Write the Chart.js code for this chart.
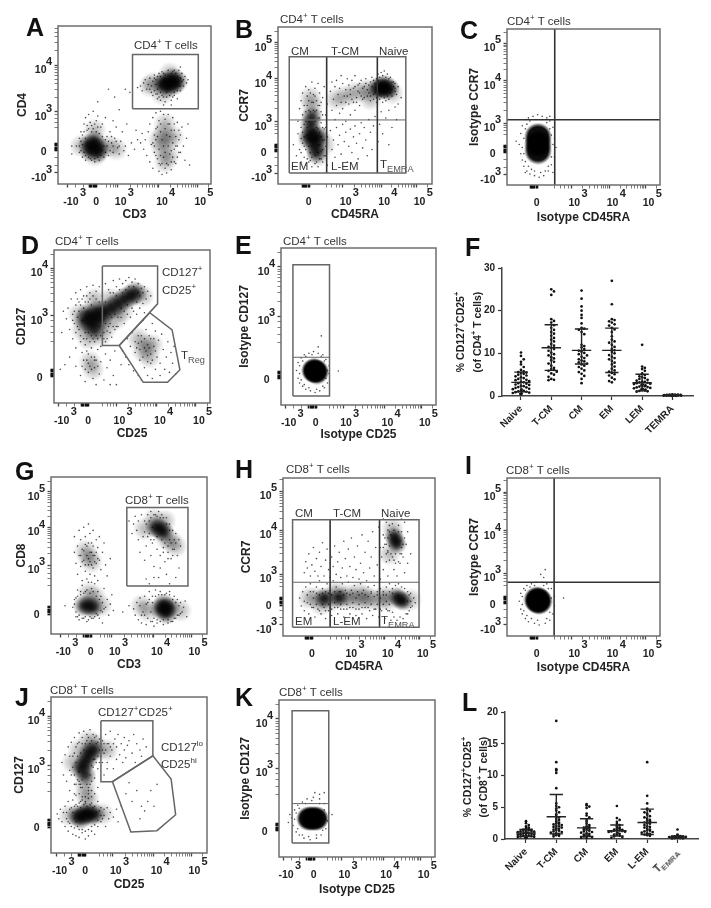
<!DOCTYPE html>
<html>
<head>
<meta charset="utf-8">
<script src="https://cdn.jsdelivr.net/npm/chart.js@4"></script>
<style>
  body { margin: 0; background: #fff; width: 711px; height: 908px; overflow: hidden; position: relative; font-family: "Liberation Sans", Arial, sans-serif; }
  canvas { position: absolute; }
  .txt { position: absolute; white-space: nowrap; color: #333; font-size: 11.5px; transform: translateY(-50%); line-height: 1; }
  .letter { font-size: 25px; font-weight: bold; color: #111; }
  .rot { font-size: 10.5px; font-weight: bold; color: #222; transform: translate(-50%, -50%) rotate(-90deg); }
  .tick45 { font-size: 10px; font-weight: bold; color: #222; transform: rotate(-45deg); transform-origin: right center; }
  sup { font-size: 70%; line-height: 0; }
  sub { font-size: 80%; line-height: 0; color: #555; }
</style>
</head>
<body>
<script>
// axis positions are flow cytometer display channels, 0-100 along each frame
const labelsX5 = ['-10', '0', '10', '10', '10'];
const expX5 = [3, '', 3, 4, 5];
const labelsX4 = ['0', '10', '10', '10'];
const expX4 = ['', 3, 4, 5];
const labelsY3 = ['0', '10', '10'];
const expY3 = ['', 3, 4];
const labelsY4 = ['-10', '0', '10', '10'];
const expY4 = [3, '', 3, 4];
const labelsY4b = ['0', '10', '10', '10'];
const expY4b = ['', 3, 4, 5];

// ---- A
const aTicksX = [6.5, 23, 39, 66, 91];
const aTicksY = [7, 23.4, 45.6, 75.3];
const aDense = [[73,64],[70,65],[76,63],[72,61],[75,67],[68,63],[78,65],[23,24],[27,23],[20,25],[24,27],[26,20],[21,21]];
const aHaze = [[62,64],[60,62],[68,57],[73,70],[15,24],[33,24],[24,34],[38,22],[24,18],[70,38],[69,32],[71,27],[68,22],[72,18],[66,28],[75,30],[70,14]];
const aDots = [[54,62],[56,64],[58,60],[57,66],[60,67],[61,58],[63,69],[62,56],[64,63],[65,54],[66,70],[67,53],[68,71],[70,52],[72,72],[71,55],[74,53],[76,56],[78,54],[80,59],[82,62],[84,64],[83,68],[81,70],[79,72],[76,72],[59,63],[52,61],[55,59],[65,60],[85,66],[74,50],[69,50],[80,74],
  [12,24],[14,20],[14,29],[15,33],[16,17],[17,38],[18,15],[18,42],[19,34],[20,44],[21,16],[22,37],[23,46],[24,14],[25,40],[26,43],[27,15],[28,36],[29,38],[30,17],[31,42],[32,30],[33,18],[34,33],[35,26],[36,20],[37,29],[38,36],[39,23],[40,19],[41,27],[42,33],[43,21],[44,24],[46,18],[48,26],[50,22],[36,40],[45,38],[52,28],[55,32],[9,24],[9,19],[40,47],[47,58],[26,52],[33,60],[44,60],[37,55],
  [56,22],[57,28],[58,18],[59,33],[60,14],[60,38],[61,25],[62,42],[62,10],[63,20],[64,35],[64,45],[65,16],[66,8],[66,40],[67,12],[67,46],[68,6],[69,44],[70,10],[70,41],[71,7],[72,44],[72,12],[73,38],[74,9],[74,21],[75,42],[76,14],[76,34],[77,24],[78,17],[78,39],[79,28],[80,31],[80,20],[81,36],[82,24],[83,15],[84,29],[86,12],[85,38],[54,26],[51,34]];
const aFringe = [[60,60],[62,65],[61,62],[63,59],[63,67],[64,57],[64,66],[65,68],[65,57],[66,55],[67,58],[67,68],[68,56],[69,70],[69,55],[70,69],[71,58],[72,69],[73,56],[74,70],[75,55],[75,71],[76,58],[77,70],[78,59],[78,68],[79,62],[80,67],[80,62],[81,65],[82,66],
  [14,24],[15,27],[15,21],[16,31],[16,25],[17,20],[17,33],[18,18],[18,29],[19,37],[20,17],[20,35],[21,39],[22,15],[22,33],[23,35],[24,16],[24,38],[25,33],[26,17],[26,36],[27,32],[28,18],[29,30],[29,21],[30,24],[31,28],[31,20],[32,24],[33,27],[34,21],[35,30],[36,24],[38,27],[40,24],
  [62,26],[63,31],[63,24],[64,18],[64,28],[65,36],[65,30],[66,22],[66,13],[67,33],[67,18],[67,38],[68,28],[68,13],[69,24],[69,17],[70,35],[70,20],[71,31],[71,13],[72,24],[72,38],[73,19],[73,30],[74,14],[74,34],[75,26],[75,17],[76,22],[76,38],[77,30],[77,13],[78,24],[79,34],[79,20]];
const aGate = [[48.7,47.7],[91.7,47.7],[91.7,82],[48.7,82],[48.7,47.7]];

// ---- B
const bTicksX = [18, 42, 67, 90];
const bTicksY = [7, 23, 39.5, 67, 90];
const bDense = [[68,61],[66,62],[70,60],[69,63],[65,60],[72,61],[23,28],[22,33],[24,24],[21,38],[25,20],[22,43],[20,30],[26,30]];
const bHaze = [[60,60],[56,59],[50,58],[44,56],[38,54],[22,50],[21,55],[20,28],[27,30],[26,18],[30,25],[74,58],[60,54]];
const bDots = [[10,25],[12,18],[13,32],[13,40],[14,22],[14,48],[15,14],[15,29],[15,36],[15,53],[16,44],[16,58],[17,17],[17,24],[17,50],[18,12],[18,40],[18,62],[19,31],[19,56],[20,14],[20,47],[20,60],[21,20],[22,11],[22,52],[22,65],[23,57],[24,13],[24,46],[24,61],[25,36],[25,53],[26,11],[26,25],[26,42],[26,64],[27,16],[27,33],[27,50],[27,58],[28,21],[28,39],[28,46],[29,14],[29,28],[29,55],[30,18],[30,35],[30,62],[31,24],[31,44],[32,12],[32,30],[32,51],
  [34,59],[35,47],[35,65],[36,54],[37,41],[37,62],[38,50],[38,66],[39,57],[40,45],[40,61],[41,52],[41,69],[42,48],[42,64],[43,56],[44,40],[44,60],[45,67],[46,51],[46,63],[47,44],[47,57],[48,66],[49,52],[49,61],[50,47],[50,69],[51,55],[52,63],[53,58],[53,50],[54,66],[55,54],[56,62],[57,67],[58,56],[59,63],[60,53],[61,68],[62,57],[63,64],[64,52],
  [65,70],[66,54],[67,71],[68,52],[69,72],[70,53],[71,70],[72,54],[73,68],[74,56],[75,65],[76,61],[77,57],[78,62],[78,51],[80,55],[76,49],[72,47],[67,46],
  [34,34],[35,22],[36,28],[37,17],[38,36],[39,25],[40,31],[41,19],[42,38],[43,27],[44,33],[45,14],[46,24],[47,35],[48,20],[49,30],[50,37],[51,26],[52,16],[53,32],[54,39],[55,23],[56,36],[57,28],[58,18],[59,41],[60,33],[61,22],[62,37],[63,43],[65,27],[66,38],[68,32],[70,42],[72,25],[74,36],[77,41]];
const bFringe = [[15,20],[16,26],[16,33],[17,38],[17,30],[18,22],[18,46],[19,16],[19,36],[19,50],[20,24],[20,40],[20,53],[21,15],[21,46],[21,58],[22,17],[22,24],[23,47],[23,52],[24,18],[24,40],[24,56],[25,14],[25,30],[25,47],[26,20],[26,35],[26,50],[27,25],[27,42],[28,16],[28,30],[28,52],[29,22],[29,36],[29,44],[30,28],[31,36],[31,18],
  [44,52],[45,56],[47,60],[48,54],[50,62],[51,52],[52,59],[53,64],[54,56],[55,61],[56,55],[57,64],[58,60],[59,58],[60,65],[60,56],[61,62],[62,66],[62,54],[63,58],[64,67],[64,55],[65,66],[66,68],[66,57],[67,56],[68,69],[69,55],[70,68],[71,56],[72,67],[73,58],[74,65],[74,60],[75,62],[76,59],[76,64]];
const bGateBox = [[7.3,7],[83,7],[83,81],[7.3,81],[7.3,7]];
const bGateH = [[7.3,40.8],[83,40.8]];
const bGateV = [[[31.6,7],[31.6,81]], [[64.5,7],[64.5,81]]];

// ---- C
const cTicksX = [17.5, 42, 67, 90.6];
const cTicksY = [6.6, 23, 39.7, 66.7, 90.8];
const cDense = [[20.3,22],[20.3,26.4],[20.3,31]];
const cDots = [[8,26],[9,20],[9,33],[10,16],[10,38],[11,12],[12,42],[13,9],[14,43],[15,7],[17,44],[18,6],[20,45],[21,5],[23,44],[24,6],[26,43],[27,9],[28,41],[29,13],[30,37],[31,18],[31,30],[32,24],[6,28],[30,8],[12,8],[28,44],
  [10,24],[11,30],[11,20],[12,36],[12,15],[13,39],[14,12],[15,41],[16,10],[18,9],[19,42],[22,8],[23,42],[25,9],[26,40],[27,12],[28,36],[29,18],[29,32],[30,26]];
const cGateH = [[0,41.8],[100,41.8]];
const cGateV = [[31.2,0],[31.2,100]];

// ---- D
const dTicksX = [3, 20, 40, 66, 91];
const dTicksY = [19.6, 57, 88];
const dDense = [[26,56],[22,58],[30,55],[24,52],[28,60],[20,54],[33,60],[26,48],[49,70],[45,68],[52,72],[41,65],[37,62]];
const dHaze = [[16,58],[18,48],[34,50],[30,44],[22,42],[36,68],[44,60],[40,55],[57,70],[26,68],[59,38],[57,34],[61,30],[23,27],[25,22],[54,42],[63,38]];
const dDots = [[8,55],[9,62],[10,48],[11,68],[12,54],[12,42],[13,60],[14,72],[14,36],[15,50],[16,66],[17,40],[17,74],[18,33],[19,70],[20,38],[21,76],[22,32],[23,72],[24,36],[25,77],[26,30],[27,73],[28,35],[29,76],[30,37],[31,70],[32,42],[33,78],[34,47],[35,74],[36,52],[37,43],[38,80],[39,48],[40,76],[41,50],[42,81],[43,56],[44,78],[45,52],[46,80],[47,58],[48,82],[49,56],[50,79],[51,60],[52,81],[53,58],[54,78],[55,62],[56,75],[57,65],[58,76],[59,68],[60,73],[58,59],[62,70],[36,58],[33,40],[6,60],[5,46],
  [10,30],[14,24],[17,18],[19,28],[20,14],[21,34],[22,20],[23,24],[24,30],[25,16],[26,23],[27,12],[27,28],[29,19],[30,27],[32,15],[33,32],[34,23],[36,28],[38,18],[39,34],[40,12],[36,12],[7,25],[4,22],[43,25],
  [44,34],[46,30],[47,42],[48,25],[49,37],[50,46],[51,21],[52,33],[53,50],[54,18],[54,39],[55,28],[56,44],[56,15],[57,54],[58,23],[58,36],[59,48],[60,18],[60,31],[61,44],[62,26],[63,52],[63,16],[64,37],[65,22],[65,47],[66,30],[67,41],[68,18],[68,26],[69,45],[70,35],[71,22],[72,30],[73,40],[74,20],[75,33],[76,26],[77,37],[78,19]];
const dFringe = [[12,58],[13,52],[14,64],[14,46],[15,56],[15,68],[16,48],[16,60],[17,44],[17,64],[18,54],[18,68],[19,42],[19,62],[20,46],[20,66],[21,42],[21,70],[22,46],[22,66],[23,40],[23,68],[24,44],[24,64],[25,42],[25,70],[26,40],[27,44],[27,68],[28,42],[29,50],[29,66],[30,44],[30,62],[31,50],[32,46],[33,52],[33,66],[34,42],[35,50],[36,46],[36,72],[37,56],[38,50],[38,72],[39,58],[40,50],[40,70],[41,56],[42,74],[43,62],[44,72],[45,60],[46,74],[47,64],[48,76],[50,62],[51,76],[53,66],[54,72],[55,70],[57,72],
  [52,40],[53,36],[54,44],[55,35],[56,40],[57,30],[58,42],[59,34],[60,38],[60,27],[61,36],[62,42],[62,32],[63,28],[64,42],[65,34],[18,24],[20,22],[21,28],[22,26],[24,22],[26,28],[28,24]];
const dGatePlus = [[31,89.6],[66.4,89.6],[66.4,64.8],[41.8,37.6],[31,37.6],[31,89.6]];
const dGateTreg = [[41.8,37.6],[61.4,59],[75.7,47.8],[80.7,21.7],[72.8,13.5],[57.2,13.5],[41.8,37.6]];

// ---- E
const eTicksX = [3, 20.4, 40, 66.7, 90.8];
const eTicksY = [19, 56.4, 87.9];
const eDense = [[22,21.7],[21,22],[23,21]];
const eDots = [[10,22],[11,17],[11,27],[12,14],[13,30],[14,12],[15,32],[16,10],[18,33],[19,9],[21,34],[22,8],[24,33],[25,9],[27,32],[28,11],[29,29],[30,14],[31,20],[31,25],[24,37],[26,44],[37,21.7],
  [12,20],[12,25],[13,16],[14,28],[15,13],[16,31],[18,11],[20,32],[23,10],[26,31],[27,12],[28,28],[29,17],[30,22]];
const eGateBox = [[7.7,5.7],[31.3,5.7],[31.3,89.4],[7.7,89.4],[7.7,5.7]];
const eGateH = [[7.7,30.4],[31.3,30.4]];

// ---- F
const fCategories = ['Naive', 'T-CM', 'CM', 'EM', 'LEM', 'TEMRA'];
const fTicksY = [0, 10, 20, 30];
const fNaive = [10.2,9.4,8.6,8,7.4,6.8,6.1,5.8,5.6,5.5,5.4,5.2,5,4.8,4.6,4.4,4.2,4,3.8,3.7,3.5,3.3,3.2,3,2.9,2.7,2.6,2.4,2.3,2.1,2,1.9,1.7,1.6,1.5,1.3,1.2,1.1,1,0.9,0.8,0.7,0.6,0.5,0.4];
const fTCM = [25,24.5,23.7,18,17.6,17.2,16.6,16,15.5,15,14.6,14.1,13.6,13.2,12.8,12.2,11.8,11.5,11.3,11,10.6,10.2,9.8,9.5,9.1,8.8,8.4,8,7.6,7.1,6.6,6.3,6.1,5.9,5.7,5.3,5,4.5,4,3.8,3.7];
const fCM = [24.7,22.8,21,20,19,18.3,17,16,15.8,15.5,15,14.5,12,11.7,11.4,11,10.6,10.4,10.1,9.8,9.5,9.2,8.9,8.6,8.3,8.1,7.9,7.6,7.4,7.1,6.8,6.4,6,5.6,5.2,4.7,4,3];
const fEM = [27,21.5,18,17.8,17.5,17.2,16.8,16.5,16,15.6,15,14,13.2,12.8,12.5,12,11.5,11,10.7,10.3,10,9.6,9.2,8.9,8.6,8.2,7.8,7.4,6.9,6.4,6,5.7,5.4,5.1,4.8,4.3,3.9,3.5,3.2];
const fLEM = [12,6.9,6.6,6.3,5.9,5.3,4.9,4.6,4.4,4.2,4,3.8,3.6,3.4,3.3,3.2,3.1,3,2.9,2.8,2.7,2.6,2.5,2.4,2.3,2.2,2.1,2,1.9,1.8,1.7,1.6,1.5,1.4,1.3,1.2,1.1,1];
const fTEMRA = [0.4,0.35,0.3,0.3,0.25,0.25,0.2,0.2,0.2,0.15,0.15,0.15,0.1,0.1,0.1,0.1,0.05,0.05];
const fMeans = [3.2, 11.3, 10.7, 10.7, 3.1, 0.15];
const fLow = [1, 6, 7.5, 5.5, 1.2, 0.05];
const fHigh = [5.6, 16.7, 15.7, 15.9, 5.1, 0.3];

// ---- G
const gTicksX = [6, 23.5, 39, 66, 90];
const gTicksY = [15, 43.9, 67.8, 90.5];
const gDense = [[73,16],[70,16],[76,17],[72,19],[74,13],[24,18],[21,18],[27,17],[70,67],[67,68],[72,65]];
const gHaze = [[62,15],[83,15],[58,18],[24,26],[32,18],[28,24],[77,59],[74,61],[66,73],[24,49],[26,46],[22,53],[73,72],[80,56],[60,67]];
const gDots = [[53,16],[54,12],[55,20],[56,9],[57,23],[58,7],[59,14],[60,24],[61,6],[62,20],[63,27],[64,8],[65,24],[66,5],[67,28],[68,7],[70,27],[72,6],[73,25],[75,7],[76,27],[78,8],[79,24],[80,10],[81,22],[82,12],[83,20],[84,14],[85,17],[86,21],[87,11],[50,18],[46,14],
  [15,19],[16,14],[16,23],[17,11],[17,28],[18,9],[19,25],[20,31],[21,10],[22,27],[23,8],[24,33],[25,11],[26,29],[27,10],[28,32],[29,13],[30,27],[31,10],[32,24],[33,14],[34,29],[35,17],[36,22],[37,12],[38,19],[39,25],[40,15],[9,18],[33,7],
  [15,62],[16,45],[17,56],[17,38],[18,50],[18,66],[19,43],[19,60],[20,34],[20,54],[21,68],[21,47],[22,40],[22,62],[23,35],[23,56],[24,70],[24,44],[25,52],[25,38],[25,64],[26,58],[26,33],[27,42],[27,66],[28,50],[28,37],[29,60],[29,45],[30,55],[30,34],[31,62],[31,47],[32,41],[33,52],[34,58],[35,44],[36,37],[38,48],[15,52],
  [50,72],[52,64],[53,70],[54,75],[55,66],[56,60],[56,72],[57,52],[58,76],[59,62],[60,72],[60,47],[61,56],[62,76],[63,64],[64,50],[64,78],[65,58],[66,43],[67,76],[68,54],[69,78],[70,50],[70,42],[71,76],[72,55],[73,46],[74,74],[75,52],[76,70],[77,48],[78,66],[79,54],[80,64],[81,50],[82,60],[83,56],[69,36],[74,38],[66,36],[61,35],[80,36],[63,32],[76,32],[82,42]];
const gFringe = [[60,12],[61,19],[62,10],[63,22],[64,14],[65,8],[65,20],[66,10],[67,24],[68,9],[69,25],[70,8],[71,25],[72,9],[74,26],[75,9],[76,25],[77,8],[78,22],[79,10],[80,20],[81,12],[82,18],[83,13],[58,12],[57,18],
  [14,17],[15,22],[16,11],[17,24],[18,12],[19,27],[20,10],[21,26],[22,11],[23,28],[24,9],[25,26],[26,10],[27,27],[28,11],[29,24],[30,12],[31,22],[32,15],[33,20],[34,16],
  [19,50],[20,46],[21,53],[22,44],[22,57],[23,50],[24,58],[24,48],[25,46],[26,52],[26,44],[27,50],[27,56],[28,46],[29,52],[30,48],
  [60,65],[61,70],[62,62],[63,72],[64,60],[64,74],[65,68],[66,60],[66,76],[68,62],[68,75],[70,74],[71,60],[72,74],[73,58],[74,70],[75,56],[76,60],[76,66],[77,58],[78,54],[79,60],[80,58],[72,52],[75,48],[78,50]];
const gGate = [[48.6,30.5],[87.8,30.5],[87.8,80.5],[48.6,80.5],[48.6,30.5]];

// ---- H
const hTicksX = [17, 43, 67, 90];
const hTicksY = [7, 22, 39, 67, 91.5];
const hDense = [[74,60.5],[73,63],[75,58],[77,23],[75,25],[79,22],[27,24],[37,24]];
const hHaze = [[17,24],[22,24],[28,24],[34,25],[40,24],[46,23],[52,23],[58,23],[64,23],[70,23],[25,20],[35,28],[50,27],[72,68],[70,52],[84,23],[31,22],[43,26],[55,25],[67,25]];
const hDots = [[11,24],[12,19],[13,28],[14,16],[15,31],[16,21],[17,14],[18,33],[19,18],[20,28],[21,12],[22,31],[23,17],[24,35],[25,14],[26,30],[27,18],[28,11],[29,33],[30,16],[31,29],[32,13],[33,35],[34,18],[35,31],[36,14],[37,28],[38,17],[39,33],[40,12],[41,29],[42,17],[43,34],[44,14],[45,29],[46,18],[47,32],[48,13],[49,28],[50,17],[51,33],[52,14],[53,29],[54,18],[55,11],[56,31],[57,16],[58,28],[59,13],[60,32],[61,17],[62,28],[63,12],[64,30],[65,16],[66,28],[67,11],[68,31],[69,16],[70,33],[71,10],[72,30],[73,12],[74,32],[75,10],[76,33],[77,12],[78,31],[79,11],[80,30],[81,14],[82,28],[83,16],[84,27],[85,19],[86,24],[87,21],
  [14,40],[15,47],[16,43],[17,52],[18,38],[19,45],[20,56],[21,41],[22,49],[23,38],[24,53],[25,44],[26,59],[27,38],[28,48],[29,55],[30,42],[31,37],[32,50],[33,44],[34,57],[35,39],[36,47],[37,53],[38,37],[39,43],[40,60],[41,49],[42,38],[43,55],[44,44],[45,62],[46,37],[47,50],[48,42],[49,57],[50,36],[51,46],[52,64],[53,40],[54,53],[55,35],[56,60],[57,43],[58,50],[59,66],[60,38],[61,56],[62,45],[63,69],[64,36],[65,50],[66,42],[67,58],[68,47],[69,38],[70,70],[66,64],[68,72],[64,56],[82,66],[81,58],[80,72],[79,50],[78,74],[82,46],[66,74],[69,53],[80,40],[73,42],[76,47],[84,52],[75,38],
  [66,56],[67,62],[68,52],[69,67],[70,48],[72,71],[73,48],[76,70],[78,66],[79,58],[80,62],[78,52],[74,46],[77,46]];
const hFringe = [[14,22],[16,26],[18,20],[18,28],[20,18],[20,24],[22,20],[22,27],[24,16],[24,26],[26,20],[26,27],[28,16],[28,28],[30,20],[30,27],[32,17],[32,26],[34,21],[34,28],[36,18],[36,25],[38,20],[38,28],[40,17],[40,26],[42,20],[42,27],[44,18],[44,26],[46,21],[46,27],[48,17],[48,24],[50,20],[50,26],[52,18],[52,27],[54,21],[54,26],[56,18],[56,25],[58,20],[58,27],[60,17],[60,25],[62,20],[62,26],[64,17],[64,24],[66,20],[66,26],[68,17],[68,26],[70,16],[70,28],[72,15],[72,27],[84,22],[83,26],[84,18],[82,14],[82,22],[70,20],[68,22],
  [68,58],[69,62],[69,54],[70,66],[70,57],[71,64],[71,52],[72,50],[73,67],[74,52],[76,66],[77,60],[78,56],[77,52]];
const hGateBox = [[6.3,5.5],[89.5,5.5],[89.5,73.6],[6.3,73.6],[6.3,5.5]];
const hGateH = [[6.3,34],[89.5,34]];
const hGateV = [[[31,5.5],[31,73.6]], [[63.5,5.5],[63.5,73.6]]];

// ---- I
const iTicksX = [17.5, 42, 67, 90.6];
const iTicksY = [7, 22.8, 39.7, 66.6, 91];
const iDense = [[20.3,22.4],[19.5,23],[21,22]];
const iDots = [[8,22],[9,17],[9,27],[10,14],[11,30],[12,11],[13,32],[14,9],[16,33],[18,8],[19,34],[21,7],[23,34],[25,8],[26,33],[28,10],[29,30],[30,14],[31,19],[31,25],[22,39],[25,42],[37,24],[24,37],
  [10,20],[10,25],[11,16],[12,29],[13,13],[15,31],[16,11],[18,32],[20,10],[24,32],[26,11],[27,30],[28,15],[29,24]];
const iGateH = [[0,34],[100,34]];
const iGateV = [[30.8,0],[30.8,100]];

// ---- J
const jTicksX = [3.6, 20, 39.6, 65.7, 90];
const jTicksY = [19, 56.4, 87.7];
const jDense = [[21,57],[19,54],[23,60],[24,64],[22,50],[27,66],[21,24.5],[17,24],[25,24],[19,22],[23,26],[28,25]];
const jHaze = [[14,58],[28,70],[30,66],[22,44],[22,38],[24,34],[12,24],[33,25],[18,66],[24,72],[36,66]];
const jDots = [[7,58],[8,50],[9,63],[10,46],[11,68],[12,53],[12,40],[13,71],[14,62],[15,44],[15,74],[16,37],[17,70],[18,77],[18,46],[19,33],[20,74],[21,78],[22,36],[23,76],[24,42],[25,79],[26,36],[27,76],[28,48],[29,75],[30,54],[31,73],[28,38],[26,46],[30,42],
  [33,72],[34,64],[35,76],[36,58],[37,70],[38,78],[38,62],[39,66],[40,54],[41,73],[42,60],[42,68],[43,76],[44,63],[45,70],[46,58],[47,66],[47,74],[48,61],[49,69],[50,72],[52,64],[53,76],[54,58],[55,70],[57,66],[58,62],[59,73],[34,50],[36,54],[61,68],[33,58],
  [4,25],[5,22],[6,28],[7,20],[8,26],[9,17],[9,30],[10,22],[11,33],[11,14],[12,19],[13,29],[14,12],[14,34],[15,22],[16,31],[16,11],[17,17],[18,32],[18,10],[20,34],[20,13],[22,9],[22,33],[24,11],[24,35],[26,14],[26,32],[28,12],[28,30],[30,17],[30,33],[32,20],[32,29],[34,24],[35,17],[36,29],[37,22],[38,26],[40,23],[42,28],[43,20],
  [15,38],[16,44],[18,38],[19,42],[20,36],[24,38],[26,40],[25,44],[48,38],[52,33],[55,40],[58,30],[60,27],[62,33],[64,40],[66,30],[50,45],[68,44],[45,30],[57,22]];
const jFringe = [[12,62],[13,50],[14,55],[15,64],[15,50],[16,58],[16,68],[17,47],[17,62],[18,52],[18,71],[19,44],[19,64],[20,70],[20,47],[21,66],[22,70],[23,72],[23,44],[24,74],[25,70],[25,50],[26,72],[26,56],[27,55],[27,60],[28,74],[28,60],[29,70],[29,58],[30,71],[30,62],[31,66],[31,58],[32,70],[32,62],[33,66],[34,70],[35,66],[36,70],[38,68],[40,70],
  [10,26],[11,20],[12,28],[13,17],[14,26],[15,16],[15,30],[16,20],[17,30],[18,15],[19,29],[20,15],[21,31],[22,14],[23,30],[24,15],[25,31],[26,17],[27,29],[28,18],[29,26],[30,21],[31,27],[32,24],[33,22],[34,28],[18,44],[20,42],[22,32],[24,40]];
const jGatePlus = [[32,84.7],[65.3,84.7],[65.3,62.3],[39.4,45.7],[32,45.7],[32,84.7]];
const jGateLo = [[39.4,45.7],[65.3,62.3],[77,47.4],[79.9,24.5],[67.9,14.3],[51.2,13.4],[39.4,45.7]];

// ---- K
const kTicksX = [2.6, 20.3, 40, 66.8, 90.8];
const kTicksY = [19, 56.4, 87.9];
const kDense = [[21.4,24.5],[19,24.5],[24,24.5]];
const kDots = [[8,25],[7,27],[9,20],[10,30],[11,16],[12,33],[13,14],[15,35],[16,12],[18,37],[20,11],[22,38],[24,12],[26,37],[27,14],[29,34],[30,18],[31,23],[32,28],[34,27],[23,41],[26,40],[29,41],[6,22],
  [10,24],[11,28],[12,18],[13,31],[15,14],[17,34],[19,13],[21,36],[24,14],[26,34],[28,17],[29,30],[30,24]];
const kGateBox = [[8.4,8.9],[31.9,8.9],[31.9,93.2],[8.4,93.2],[8.4,8.9]];
const kGateH = [[8.4,34],[31.9,34]];

// ---- L
const lCategories = ['Naive', 'T-CM', 'CM', 'EM', 'L-EM', ''];
const lTicksY = [0, 5, 10, 15, 20];
const lNaive = [2.8,2.5,2.2,2,1.8,1.7,1.6,1.5,1.45,1.4,1.35,1.3,1.25,1.2,1.15,1.1,1.05,1,0.95,0.9,0.85,0.8,0.75,0.7,0.65,0.6,0.55,0.5,0.45,0.4,0.35,0.3,0.25,0.2,0.15];
const lTCM = [18.6,12.1,11,10.8,10.4,8,5.6,5.2,5,4.8,4.5,4.2,3.9,3.6,3.4,3.2,3,2.8,2.6,2.5,2.4,2.3,2.2,2.1,2,1.9,1.8,1.7,1.6,1.5,1.4,1.3,1.2,1.1,1,0.9,0.8,0.7,0.6,0.5,0.4];
const lCM = [5.5,5.3,5.1,4.9,4,3.7,3.4,3,2.7,2.4,2.2,2,1.9,1.8,1.7,1.6,1.5,1.4,1.3,1.2,1.1,1,0.9,0.8,0.7,0.6,0.5,0.4,0.3,0.2,0.15];
const lEM = [5.2,3.3,3,2.7,2.4,2.2,2,1.8,1.7,1.6,1.5,1.45,1.4,1.35,1.3,1.25,1.2,1.15,1.1,1,0.9,0.8,0.7,0.6,0.5,0.4,0.3,0.2];
const lLEM = [12.1,6.8,5.6,4.8,4.6,4.4,4.2,4,3.8,3.6,3.4,3.2,3,2.9,2.8,2.6,2.5,2.4,2.2,2,1.9,1.8,1.6,1.5,1.4,1.3,1.2,1.1,1,0.9,0.8,0.7,0.6,0.5];
const lTEMRA = [1.5,0.7,0.5,0.45,0.4,0.38,0.35,0.33,0.3,0.28,0.25,0.22,0.2,0.18,0.15,0.12,0.1,0.08];
const lMeans = [0.95, 3.5, 1.75, 1.3, 2.6, 0.3];
const lLow = [0.4, 0.8, 0.4, 0.5, 0.7, 0.1];
const lHigh = [1.5, 7, 3.2, 2.2, 4.7, 0.5];

Chart.defaults.font.family = '"Liberation Sans", Arial, sans-serif';
Chart.defaults.animation = false;

function pts(arr) { return arr.map(p => ({ x: p[0], y: p[1] })); }

// soft round marker: a dense area of events reads as one dark patch
function softDisc(size, alpha, hard) {
    const c = document.createElement('canvas');
    c.width = c.height = size;
    const g = c.getContext('2d');
    const r = size / 2;
    const grad = g.createRadialGradient(r, r, 0, r, r, r);
    grad.addColorStop(0, `rgba(0,0,0,${alpha})`);
    grad.addColorStop(hard, `rgba(0,0,0,${alpha})`);
    grad.addColorStop(1, 'rgba(0,0,0,0)');
    g.fillStyle = grad;
    g.fillRect(0, 0, size, size);
    return c;
}

function addCanvas(left, top, width, height) {
    const c = document.createElement('canvas');
    c.width = width;
    c.height = height;
    c.style.left = left + 'px';
    c.style.top = top + 'px';
    document.body.appendChild(c);
    return c;
}

// log minor ticks between the decades, and the dense group around zero
function minorTicks(ticks, labels) {
    const out = [];
    ticks.forEach((t, i) => {
        const next = ticks[i + 1];
        if (labels[i] === '0') {
            [-2.4, -1.6, -0.8, 0.8, 1.6, 2.4].forEach(d => out.push(t + d));
            if (next) [0.55, 0.7, 0.82, 0.92].forEach(f => out.push(t + (next - t) * f));
            if (i > 0) [0.3, 0.6].forEach(f => out.push(ticks[i - 1] + (t - ticks[i - 1]) * f));
        }
        if (labels[i] === '10' && next) {
            for (let k = 2; k < 10; k++) out.push(t + (next - t) * Math.log10(k));
        }
        if (labels[i] === '10' && !next) {
            const w = t - ticks[i - 1];
            for (let k = 2; k < 10; k++) {
                const v = t + w * Math.log10(k);
                if (v < 100) out.push(v);
            }
        }
    });
    return out.filter(v => v > 0 && v < 100);
}

const zeroGroup = (ticks, labels) => ticks[labels.indexOf('0')];

function flowAxis(ticks, labels, title, isX, size) {
    const minors = minorTicks(ticks, labels);
    const zero = zeroGroup(ticks, labels);
    return {
        type: 'linear',
        min: 0,
        max: 100,
        afterBuildTicks: s => { s.ticks = [...ticks, ...minors].sort((a, b) => a - b).map(v => ({ value: v })); },
        afterFit: s => {
            if (isX) s.height = size; else s.width = size;
            s.paddingLeft = s.paddingRight = s.paddingTop = s.paddingBottom = 0;
        },
        border: { display: false },
        grid: {
            drawOnChartArea: false,
            tickLength: 3.5,
            tickColor: c => (c.tick && Math.abs(c.tick.value - zero) < 3) ? '#111' : '#444',
            tickWidth: c => {
                if (!c.tick) return 0.7;
                if (Math.abs(c.tick.value - zero) < 3) return 1.6;
                return ticks.includes(c.tick.value) ? 1.3 : 0.7;
            }
        },
        ticks: {
            autoSkip: false,
            maxRotation: 0,
            minRotation: 0,
            padding: 8,
            labelOffset: isX ? 3 : 5,
            color: '#222',
            font: { size: 10.5, weight: 'bold' },
            callback: v => { const i = ticks.indexOf(v); return i < 0 ? '' : labels[i]; }
        },
        title: { display: true, text: title, color: '#222', padding: 0, font: { size: 12, weight: 'bold' } }
    };
}

// frame box and the decade exponents beside each "10"
function flowPlugin(p) {
    return {
        id: 'flowFrame',
        afterDraw(chart) {
            const { ctx, chartArea: a, scales } = chart;
            ctx.save();
            ctx.strokeStyle = '#6e6e6e';
            ctx.lineWidth = 1.5;
            ctx.strokeRect(a.left, a.top, a.right - a.left, a.bottom - a.top);
            ctx.fillStyle = '#222';
            ctx.font = 'bold 11px "Liberation Sans", Arial, sans-serif';
            ctx.textBaseline = 'middle';
            ctx.textAlign = 'left';
            p.xTicks.forEach((t, i) => {
                if (p.xExp[i] === '') return;
                const w = ctx.measureText(p.xLabels[i]).width;
                ctx.fillText(p.xExp[i], scales.x.getPixelForValue(t) + 3 + w / 2 + 1, a.bottom + 9);
            });
            p.yTicks.forEach((t, i) => {
                if (p.yExp[i] === '') return;
                ctx.fillText(p.yExp[i], a.left - 12, scales.y.getPixelForValue(t) - 3);
            });
            ctx.restore();
        }
    };
}

function gateSet(lines, color, width) {
    return lines.map(l => ({
        data: pts(l), showLine: true, pointRadius: 0, borderColor: color, borderWidth: width, tension: 0, order: 0
    }));
}

function flowChart(p) {
    const canvasLeft = p.titleX - 7;
    const canvasTop = p.top - 2;
    const canvas = addCanvas(canvasLeft, canvasTop, p.right + 6 - canvasLeft, p.titleY + 7 - canvasTop);
    const datasets = [
        ...gateSet(p.gates || [], '#666', 1.5),
        ...gateSet(p.darkGates || [], '#333', 1.6),
        ...gateSet(p.thinGates || [], '#666', 1),
        { data: pts(p.dots), pointRadius: 0.8, pointBackgroundColor: 'rgba(0,0,0,0.7)', pointBorderWidth: 0, order: 1 },
        { data: pts(p.dense), pointStyle: softDisc(p.denseSize, p.denseAlpha || 0.75, p.hard || 0.2), order: 2 }
    ];
    if (p.haze) datasets.push({ data: pts(p.haze), pointStyle: softDisc(p.hazeSize || 24, 0.26, 0.2), order: 3 });
    new Chart(canvas, {
        type: 'scatter',
        data: { datasets },
        options: {
            responsive: false,
            layout: { autoPadding: false, padding: { top: 2, right: 6, left: 0, bottom: 0 } },
            plugins: { legend: { display: false }, tooltip: { enabled: false } },
            scales: {
                x: flowAxis(p.xTicks, p.xLabels, p.xTitle, true, p.titleY + 7 - p.bottom),
                y: flowAxis(p.yTicks, p.yLabels, p.yTitle, false, p.left - canvasLeft)
            }
        },
        plugins: [flowPlugin(p)]
    });
}

// spreads equal-ish values sideways around the category, Prism style
function swarm(values, center, binWidth, step, maxOffset) {
    const bins = {};
    return values.map(v => {
        const b = Math.round(v / binWidth);
        const n = bins[b] = (bins[b] || 0) + 1;
        const side = n % 2 === 0 ? 1 : -1;
        const off = (Math.floor(n / 2) * step) % maxOffset;
        return { x: center + side * off, y: v };
    });
}

function stripChart(p) {
    const canvas = addCanvas(455, p.top - 8, 250, p.canvasBottom - p.top + 8);
    const bars = [];
    p.means.forEach((m, i) => {
        bars.push({ x: i - 0.32, y: m }, { x: i + 0.32, y: m }, { x: NaN, y: NaN });
        bars.push({ x: i - 0.22, y: p.high[i] }, { x: i + 0.22, y: p.high[i] }, { x: NaN, y: NaN });
        bars.push({ x: i - 0.22, y: p.low[i] }, { x: i + 0.22, y: p.low[i] }, { x: NaN, y: NaN });
        bars.push({ x: i, y: p.low[i] }, { x: i, y: p.high[i] }, { x: NaN, y: NaN });
    });
    const dots = [];
    p.series.forEach((s, i) => dots.push(...swarm(s, i, p.binWidth, 0.09, 0.34)));
    new Chart(canvas, {
        type: 'scatter',
        data: { datasets: [
            { data: bars, showLine: true, spanGaps: false, pointRadius: 0, borderColor: '#222', borderWidth: 1.4, clip: false },
            { data: dots, pointRadius: 1.35, pointBackgroundColor: '#111', pointBorderWidth: 0, clip: false }
        ] },
        options: {
            responsive: false,
            layout: { autoPadding: false, padding: { top: 8, right: 705 - p.axisRight, left: 0, bottom: 0 } },
            plugins: { legend: { display: false }, tooltip: { enabled: false } },
            scales: {
                x: {
                    type: 'linear', min: p.xMin, max: p.xMax,
                    afterBuildTicks: s => { s.ticks = p.categories.map((c, i) => ({ value: i })); },
                    afterFit: s => { s.height = p.canvasBottom - p.bottom; s.paddingLeft = s.paddingRight = 0; },
                    border: { color: '#444', width: 1.5 },
                    grid: { drawOnChartArea: false, tickLength: 4, tickColor: '#333', tickWidth: 1.2 },
                    ticks: {
                        autoSkip: false, maxRotation: 45, minRotation: 45, padding: 3, color: '#222',
                        font: { size: 10, weight: 'bold' },
                        callback: v => p.categories[v]
                    }
                },
                y: {
                    type: 'linear', min: 0, max: p.yMax,
                    afterBuildTicks: s => { s.ticks = p.yTicks.map(v => ({ value: v })); },
                    afterFit: s => { s.width = p.left - 455; s.paddingTop = s.paddingBottom = 0; },
                    border: { color: '#444', width: 1.5 },
                    grid: { drawOnChartArea: false, tickLength: 4, tickColor: '#333', tickWidth: 1.2 },
                    ticks: { padding: 3, color: '#222', font: { size: 10, weight: 'bold' } }
                }
            }
        }
    });
}

flowChart({ left: 58, right: 211, top: 26, bottom: 184, titleX: 22, titleY: 215, xTitle: 'CD3', yTitle: 'CD4',
    xTicks: aTicksX, xLabels: labelsX5, xExp: expX5, yTicks: aTicksY, yLabels: labelsY4, yExp: expY4,
    dots: [...aDots, ...aFringe], dense: aDense, haze: aHaze, denseSize: 22, gates: [aGate] });
flowChart({ left: 278, right: 432, top: 27, bottom: 184, titleX: 244, titleY: 215, xTitle: 'CD45RA', yTitle: 'CCR7',
    xTicks: bTicksX, xLabels: labelsX4, xExp: expX4, yTicks: bTicksY, yLabels: labelsX5, yExp: expX5,
    dots: [...bDots, ...bFringe], dense: bDense, haze: bHaze, denseSize: 22, gates: [bGateBox], darkGates: bGateV, thinGates: [bGateH] });
flowChart({ left: 507, right: 660, top: 29, bottom: 185, titleX: 474, titleY: 218, xTitle: 'Isotype CD45RA', yTitle: 'Isotype CCR7',
    xTicks: cTicksX, xLabels: labelsX4, xExp: expX4, yTicks: cTicksY, yLabels: labelsX5, yExp: expX5,
    dots: cDots, dense: cDense, denseSize: 28, denseAlpha: 0.95, hard: 0.72, darkGates: [cGateH, cGateV] });
flowChart({ left: 54, right: 210, top: 250, bottom: 403, titleX: 21, titleY: 434, xTitle: 'CD25', yTitle: 'CD127',
    xTicks: dTicksX, xLabels: labelsX5, xExp: expX5, yTicks: dTicksY, yLabels: labelsY3, yExp: expY3,
    dots: [...dDots, ...dFringe], dense: dDense, haze: dHaze, denseSize: 24, gates: [dGatePlus, dGateTreg] });
flowChart({ left: 281, right: 436, top: 248, bottom: 405, titleX: 244, titleY: 435, xTitle: 'Isotype CD25', yTitle: 'Isotype CD127',
    xTicks: eTicksX, xLabels: labelsX5, xExp: expX5, yTicks: eTicksY, yLabels: labelsY3, yExp: expY3,
    dots: eDots, dense: eDense, denseSize: 25, denseAlpha: 0.95, hard: 0.72, gates: [eGateBox], thinGates: [eGateH] });
stripChart({ left: 502, top: 268, bottom: 396, canvasBottom: 460, axisRight: 693, xMin: -0.627, xMax: 5.68, yMax: 30, yTicks: fTicksY,
    categories: fCategories, series: [fNaive, fTCM, fCM, fEM, fLEM, fTEMRA], means: fMeans, low: fLow, high: fHigh, binWidth: 1 });
flowChart({ left: 51, right: 207, top: 477, bottom: 634, titleX: 21, titleY: 665, xTitle: 'CD3', yTitle: 'CD8',
    xTicks: gTicksX, xLabels: labelsX5, xExp: expX5, yTicks: gTicksY, yLabels: labelsY4b, yExp: expY4b,
    dots: [...gDots, ...gFringe], dense: gDense, haze: gHaze, denseSize: 22, gates: [gGate] });
flowChart({ left: 283, right: 435, top: 478, bottom: 636, titleX: 246, titleY: 667, xTitle: 'CD45RA', yTitle: 'CCR7',
    xTicks: hTicksX, xLabels: labelsX4, xExp: expX4, yTicks: hTicksY, yLabels: labelsX5, yExp: expX5,
    dots: [...hDots, ...hFringe], dense: hDense, haze: hHaze, denseSize: 20, gates: [hGateBox], darkGates: hGateV, thinGates: [hGateH] });
flowChart({ left: 507, right: 660, top: 478, bottom: 636, titleX: 474, titleY: 668, xTitle: 'Isotype CD45RA', yTitle: 'Isotype CCR7',
    xTicks: iTicksX, xLabels: labelsX4, xExp: expX4, yTicks: iTicksY, yLabels: labelsX5, yExp: expX5,
    dots: iDots, dense: iDense, denseSize: 27, denseAlpha: 0.95, hard: 0.72, darkGates: [iGateH, iGateV] });
flowChart({ left: 51, right: 207, top: 697, bottom: 853, titleX: 19, titleY: 885, xTitle: 'CD25', yTitle: 'CD127',
    xTicks: jTicksX, xLabels: labelsX5, xExp: expX5, yTicks: jTicksY, yLabels: labelsY3, yExp: expY3,
    dots: [...jDots, ...jFringe], dense: jDense, haze: jHaze, denseSize: 22, gates: [jGatePlus, jGateLo] });
flowChart({ left: 279, right: 435, top: 700, bottom: 857, titleX: 245, titleY: 890, xTitle: 'Isotype CD25', yTitle: 'Isotype CD127',
    xTicks: kTicksX, xLabels: labelsX5, xExp: expX5, yTicks: kTicksY, yLabels: labelsY3, yExp: expY3,
    dots: kDots, dense: kDense, denseSize: 25, denseAlpha: 0.95, hard: 0.72, gates: [kGateBox], thinGates: [kGateH] });
stripChart({ left: 505, top: 712, bottom: 839, canvasBottom: 902, axisRight: 698, xMin: -0.693, xMax: 5.677, yMax: 20, yTicks: lTicksY,
    categories: lCategories, series: [lNaive, lTCM, lCM, lEM, lLEM, lTEMRA], means: lMeans, low: lLow, high: lHigh, binWidth: 0.4 });

// panel letters, gate names and rotated titles, which need sup/sub
const letters = [['A',26,27],['B',235,29],['C',460,30],['D',21,245],['E',235,245],['F',465,247],['G',15,471],['H',235,469],['I',465,465],['J',15,697],['K',235,697],['L',462,702]];
const gateLabels = [
    ['CD4<sup>+</sup> T cells',134,46], ['CD4<sup>+</sup> T cells',280,20], ['CM',291,52], ['T-CM',331,52], ['Naive',379,52], ['EM',291,167], ['L-EM',331,167], ['T<sub>EMRA</sub>',380,165],
    ['CD4<sup>+</sup> T cells',507,22], ['CD4<sup>+</sup> T cells',55,242], ['CD127<sup>+</sup>',162,273], ['CD25<sup>+</sup>',162,291], ['T<sub>Reg</sub>',181,356],
    ['CD4<sup>+</sup> T cells',283,242], ['CD8<sup>+</sup> T cells',125,501], ['CD8<sup>+</sup> T cells',286,470], ['CM',295,514], ['T-CM',333,514], ['Naive',381,514], ['EM',295,622], ['L-EM',333,622], ['T<sub>EMRA</sub>',381,621],
    ['CD8<sup>+</sup> T cells',506,471], ['CD8<sup>+</sup> T cells',50,691], ['CD127<sup>+</sup>CD25<sup>+</sup>',98,713], ['CD127<sup>lo</sup>',161,748], ['CD25<sup>hi</sup>',161,765], ['CD8<sup>+</sup> T cells',279,693]
];
const rotatedTitles = [
    ['% CD127<sup>+</sup>CD25<sup>+</sup>',460,332], ['(of CD4<sup>+</sup> T cells)',477,332],
    ['% CD127<sup>+</sup>CD25<sup>+</sup>',467,777], ['(of CD8<sup>+</sup> T cells)',483,777]
];

function addText(cls, html, x, y) {
    const el = document.createElement('div');
    el.className = cls;
    el.innerHTML = html;
    el.style.left = x + 'px';
    el.style.top = y + 'px';
    document.body.appendChild(el);
    return el;
}
letters.forEach(l => addText('txt letter', l[0], l[1], l[2]));
gateLabels.forEach(l => addText('txt', l[0], l[1], l[2]));
rotatedTitles.forEach(l => addText('txt rot', l[0], l[1], l[2]));
addText('txt tick45', 'T<sub>EMRA</sub>', 647, 845);
</script>
</body>
</html>
